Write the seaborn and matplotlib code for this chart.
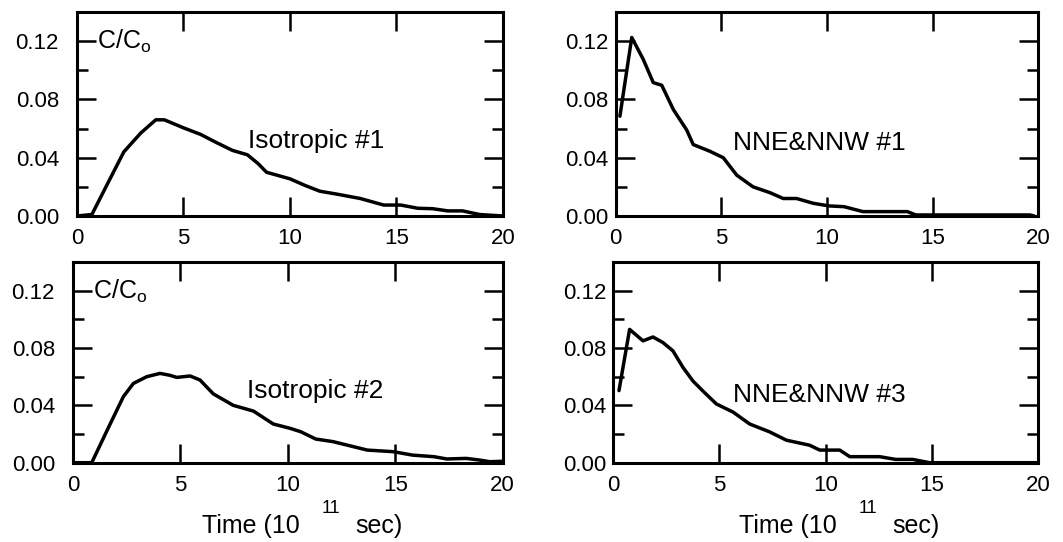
import matplotlib
matplotlib.use("Agg")
import matplotlib.pyplot as plt
import seaborn as sns
from matplotlib.ticker import MultipleLocator

# C/C0 against time (10^11 sec)
t_iso1 = [0, 0.7, 1.5, 2.2, 3.0, 3.7, 4.1, 5.0, 5.8, 6.6, 7.3, 8.0, 8.5, 8.9, 10.0, 10.7,
          11.4, 12.2, 13.3, 14.4, 15.2, 16.0, 16.7, 17.4, 18.1, 18.9, 20.0]
c_iso1 = [0, 0.001, 0.024, 0.044, 0.057, 0.066, 0.066, 0.0605, 0.056, 0.050, 0.045,
          0.042, 0.036, 0.030, 0.0255, 0.021, 0.017, 0.015, 0.012, 0.0075, 0.0075, 0.0053,
          0.005, 0.0035, 0.0035, 0.001, 0.0]

t_nne1 = [0.2, 0.76, 1.3, 1.78, 2.18, 2.73, 3.36, 3.67, 4.46, 5.09, 5.73, 6.5, 7.3,
          7.93, 8.56, 9.35, 10.1, 10.8, 11.7, 13.8, 14.2, 19.6, 19.8]
c_nne1 = [0.0685, 0.1225, 0.1076, 0.0915, 0.0897, 0.073, 0.059, 0.049, 0.0444, 0.040,
          0.028, 0.020, 0.016, 0.012, 0.012, 0.0087, 0.0069, 0.0064, 0.003, 0.003,
          0.0007, 0.0007, 0.0]

t_iso2 = [0, 0.87, 1.6, 2.34, 2.81, 3.43, 4.05, 4.5, 4.83, 5.45, 5.91, 6.53, 7.46, 8.4,
          9.32, 10.1, 10.6, 11.3, 12.1, 13.7, 14.9, 15.8, 16.8, 17.4, 18.3, 18.9, 19.4, 20.0]
c_iso2 = [0, 0, 0.023, 0.046, 0.0553, 0.060, 0.0623, 0.061, 0.0595, 0.0605, 0.0577,
          0.048, 0.040, 0.036, 0.027, 0.024, 0.0216, 0.0165, 0.0147, 0.0088, 0.0077,
          0.0053, 0.0042, 0.0026, 0.003, 0.0019, 0.0007, 0.001]

t_nne3 = [0.28, 0.78, 1.41, 1.88, 2.35, 2.82, 3.29, 3.76, 4.23, 4.86, 5.65, 6.43, 7.37,
          8.16, 9.25, 9.73, 10.67, 11.14, 12.55, 13.3, 14.1, 14.9, 20.0]
c_nne3 = [0.0503, 0.093, 0.085, 0.0877, 0.0838, 0.078, 0.0665, 0.057, 0.050, 0.041,
          0.0353, 0.027, 0.0215, 0.0157, 0.0122, 0.0088, 0.0088, 0.0042, 0.0042, 0.0023,
          0.0023, 0.0, 0.0]

panel_labels = ["Isotropic #1", "NNE&NNW #1", "Isotropic #2", "NNE&NNW #3"]
label_pos = [(8.03, 0.0469), (5.57, 0.0455), (8.09, 0.0449), (5.66, 0.0426)]
y_ticks = [0.00, 0.04, 0.08, 0.12]

sns.set_theme(style="ticks")
plt.rcParams['font.family'] = ['Liberation Sans', 'DejaVu Sans']
plt.rcParams['mathtext.fontset'] = 'custom'
plt.rcParams['mathtext.rm'] = 'Liberation Sans'
plt.rcParams['text.color'] = 'black'
plt.rcParams['xtick.color'] = 'black'
plt.rcParams['ytick.color'] = 'black'
plt.rcParams['axes.labelcolor'] = 'black'

fig = plt.figure(figsize=(10.63, 5.42), dpi=100, facecolor='white')
# axes boxes (left, bottom, width, height)
boxes = [[0.0724, 0.6015, 0.4008, 0.3764],
         [0.5792, 0.6015, 0.3976, 0.3764],
         [0.0687, 0.1463, 0.4042, 0.3703],
         [0.5767, 0.1463, 0.3998, 0.3703]]
series = [(t_iso1, c_iso1), (t_nne1, c_nne1), (t_iso2, c_iso2), (t_nne3, c_nne3)]

for i, (box, (tt, cc)) in enumerate(zip(boxes, series)):
    ax = fig.add_axes(box)
    sns.lineplot(x=tt, y=cc, ax=ax, color='black', lw=2.5, sort=False, estimator=None)
    ax.set_xlim(0, 20)
    ax.set_ylim(0, 0.14)
    ax.set_xticks([0, 5, 10, 15, 20])
    ax.set_yticks(y_ticks)
    ax.set_yticklabels([f"{v:.2f}" for v in y_ticks])
    ax.yaxis.set_minor_locator(MultipleLocator(0.02))
    ypad = 13 if i % 2 == 0 else 5
    ax.tick_params(axis='both', which='major', direction='in', top=True, right=True,
                   length=14, width=1.8, labelsize=16, color='black', labelcolor='black')
    ax.tick_params(axis='y', which='major', pad=ypad)
    ax.tick_params(axis='x', which='major', pad=9)
    ax.tick_params(axis='y', which='minor', direction='in', left=True, right=True,
                   length=8, width=1.8, color='black')
    ax.tick_params(axis='x', which='minor', bottom=False, top=False)
    for s in ax.spines.values():
        s.set_linewidth(2.2)
        s.set_color('black')
    ax.text(label_pos[i][0], label_pos[i][1], panel_labels[i], fontsize=19,
            va='baseline', ha='left', color='black')
    if i % 2 == 0:
        ax.text(0.92, 0.1145, r'C/C$_{\mathrm{o}}$', fontsize=18, va='baseline',
                ha='left', color='black')
    if i >= 2:
        ax.text(0.527, -0.35, 'Time (10', transform=ax.transAxes, fontsize=18,
                ha='right', va='baseline', color='black')
        ax.text(0.60, -0.25, '11', transform=ax.transAxes, fontsize=13,
                ha='center', va='baseline', color='black')
        ax.text(0.657, -0.35, 'sec)', transform=ax.transAxes, fontsize=18,
                ha='left', va='baseline', color='black')
    ax.set_xlabel('')
    ax.set_ylabel('')

fig.savefig('out.png', dpi=100, facecolor='white')
